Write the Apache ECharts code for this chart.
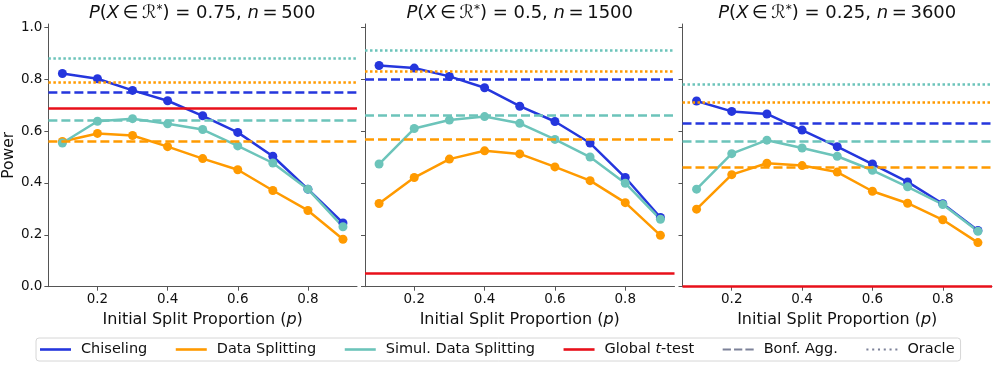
<!DOCTYPE html>
<html><head><meta charset="utf-8">
<script src="https://cdn.jsdelivr.net/npm/echarts@6/dist/echarts.min.js"></script>
<style>html,body{margin:0;padding:0;background:#fff}#c{width:997px;height:368px}</style>
</head><body><div id="c"></div>
<script>
// ---- data ----
const pValues = [0.1, 0.2, 0.3, 0.4, 0.5, 0.6, 0.7, 0.8, 0.9];
const xTicks = [0.2, 0.4, 0.6, 0.8];
const yTicks = [0.0, 0.2, 0.4, 0.6, 0.8, 1.0];
const panelTitles = [['0.75', '500'], ['0.5', '1500'], ['0.25', '3600']];

const chiseling = [
  [0.822, 0.802, 0.757, 0.717, 0.659, 0.595, 0.503, 0.376, 0.246],
  [0.853, 0.843, 0.811, 0.767, 0.696, 0.637, 0.554, 0.421, 0.267],
  [0.716, 0.676, 0.666, 0.604, 0.540, 0.473, 0.404, 0.320, 0.217]
];
const dataSplitting = [
  [0.560, 0.591, 0.583, 0.540, 0.494, 0.451, 0.371, 0.294, 0.183],
  [0.321, 0.421, 0.492, 0.524, 0.512, 0.462, 0.409, 0.324, 0.198],
  [0.299, 0.432, 0.476, 0.467, 0.442, 0.368, 0.322, 0.258, 0.170]
];
const simulSplitting = [
  [0.554, 0.638, 0.648, 0.628, 0.606, 0.543, 0.477, 0.376, 0.231],
  [0.473, 0.610, 0.643, 0.656, 0.630, 0.568, 0.500, 0.399, 0.260],
  [0.376, 0.513, 0.565, 0.535, 0.503, 0.449, 0.385, 0.317, 0.214]
];
const bonfChiseling = [0.746, 0.798, 0.627];
const bonfDataSplitting = [0.561, 0.574, 0.459];
const bonfSimul = [0.641, 0.660, 0.555];
const oracleDataSplitting = [0.794, 0.834, 0.714];
const oracleSimul = [0.875, 0.907, 0.775];
const globalTTest = [0.685, 0.051, 0.0];

// ---- styling ----
const BLUE = '#2536dd', ORANGE = '#ff9a00', CYAN = '#6cc4ba', RED = '#e8101a', GRAY = '#7d8299';
const FONT = 'DejaVu Sans';
const DASH = [9, 4], DOT = [2.5, 2.5];
const gridLefts = [47.5, 365, 682.5];
const gridW = 309.5, gridTop = 24, gridH = 262.7;

const grids = [], xAxes = [], yAxes = [], titles = [], series = [];
for (let i = 0; i < 3; i++) {
  grids.push({left: gridLefts[i], top: gridTop, width: gridW, height: gridH});
  xAxes.push({
    type: 'value', gridIndex: i, min: 0.06, max: 0.94,
    axisLine: {show: true, onZero: false, lineStyle: {color: '#555', width: 1}},
    axisTick: {show: true, length: 4, customValues: xTicks, lineStyle: {color: '#555'}},
    axisLabel: {customValues: xTicks, margin: 6, color: '#111', fontFamily: FONT, fontSize: 13.5,
      formatter: v => v.toFixed(1)},
    splitLine: {show: false},
    name: 'Initial Split Proportion ({i|p})', nameLocation: 'middle', nameGap: 14,
    nameTextStyle: {color: '#111', fontFamily: FONT, fontSize: 16,
      rich: {i: {fontStyle: 'italic', fontFamily: FONT, fontSize: 16, color: '#111'}}}
  });
  yAxes.push({
    type: 'value', gridIndex: i, min: 0, max: 1.013,
    axisLine: {show: true, lineStyle: {color: '#555', width: 1}},
    axisTick: {show: true, length: 4, customValues: yTicks, lineStyle: {color: '#555'}},
    axisLabel: {show: i === 0, customValues: yTicks, margin: 6, color: '#111', fontFamily: FONT, fontSize: 13.5,
      formatter: v => v.toFixed(1)},
    splitLine: {show: false},
    name: i === 0 ? 'Power' : '', nameLocation: 'middle', nameGap: 23,
    nameTextStyle: {color: '#111', fontFamily: FONT, fontSize: 15.5}
  });
  titles.push({
    left: gridLefts[i] + gridW / 2, top: 4, textAlign: 'center', padding: 0,
    text: '{i|P}({i|X}\u2009\u2208\u2009\u211B{s|*}) = ' + panelTitles[i][0] + ', {i|n}\u2009=\u2009' + panelTitles[i][1],
    textStyle: {fontFamily: FONT, fontSize: 18, fontWeight: 'normal', color: '#111',
      rich: {
        i: {fontStyle: 'italic', fontFamily: FONT, fontSize: 18, color: '#111'},
        s: {fontFamily: FONT, fontSize: 12, color: '#111', verticalAlign: 'top'}
      }}
  });

  const hl = (v, color, type) => ({yAxis: v, lineStyle: {color: color, type: type, width: 2.5}});
  const mlBase = {symbol: 'none', silent: true, label: {show: false}, animation: false, emphasis: {disabled: true}};
  series.push({
    name: 'Oracle', type: 'line', xAxisIndex: i, yAxisIndex: i, data: [], z: 1, color: GRAY,
    markLine: Object.assign({}, mlBase, {data: [hl(oracleSimul[i], CYAN, DOT), hl(oracleDataSplitting[i], ORANGE, DOT)]})
  });
  series.push({
    name: 'Bonf. Agg.', type: 'line', xAxisIndex: i, yAxisIndex: i, data: [], z: 1, color: GRAY,
    markLine: Object.assign({}, mlBase, {data: [hl(bonfChiseling[i], BLUE, DASH), hl(bonfSimul[i], CYAN, DASH), hl(bonfDataSplitting[i], ORANGE, DASH)]})
  });
  series.push({
    name: 'Global t-test', type: 'line', xAxisIndex: i, yAxisIndex: i, data: [], z: 1, color: RED,
    markLine: Object.assign({}, mlBase, {data: [hl(globalTTest[i], RED, 'solid')]})
  });
  const curve = (name, vals, color) => ({
    name: name, type: 'line', xAxisIndex: i, yAxisIndex: i, z: 3, color: color,
    data: pValues.map((p, k) => [p, vals[k]]),
    symbol: 'circle', symbolSize: 9, showAllSymbol: true,
    lineStyle: {color: color, width: 2.5}, itemStyle: {color: color},
    emphasis: {disabled: true}
  });
  series.push(curve('Chiseling', chiseling[i], BLUE));
  series.push(curve('Data Splitting', dataSplitting[i], ORANGE));
  series.push(curve('Simul. Data Splitting', simulSplitting[i], CYAN));
}

const dashIcon = 'path://M0,0H8V2H0Z M11,0H19V2H11Z M22,0H30V2H22Z';
const dotIcon = 'path://M0,0H2V2H0Z M5.6,0H7.6V2H5.6Z M11.2,0H13.2V2H11.2Z M16.8,0H18.8V2H16.8Z M22.4,0H24.4V2H22.4Z M28,0H30V2H28Z';

const option = {
  animation: false,
  backgroundColor: '#fff',
  title: titles,
  grid: grids,
  xAxis: xAxes,
  yAxis: yAxes,
  legend: {
    left: 36, top: 338, orient: 'horizontal',
    padding: [4, 6, 4, 4], itemGap: 28.5, itemWidth: 31, itemHeight: 2.6,
    borderColor: '#d6d6d6', borderWidth: 1, borderRadius: 3, backgroundColor: '#fff',
    selectedMode: false,
    textStyle: {fontFamily: FONT, fontSize: 14.5, color: '#111', padding: [0, 0, 0, 5],
      rich: {i: {fontStyle: 'italic', fontFamily: FONT, fontSize: 14.5, color: '#111'}}},
    formatter: n => n === 'Global t-test' ? 'Global {i|t}-test' : n,
    data: [
      {name: 'Chiseling', icon: 'rect', itemStyle: {color: BLUE}},
      {name: 'Data Splitting', icon: 'rect', itemStyle: {color: ORANGE}},
      {name: 'Simul. Data Splitting', icon: 'rect', itemStyle: {color: CYAN}},
      {name: 'Global t-test', icon: 'rect', itemStyle: {color: RED}},
      {name: 'Bonf. Agg.', icon: dashIcon, itemStyle: {color: GRAY}},
      {name: 'Oracle', icon: dotIcon, itemStyle: {color: GRAY}}
    ]
  },
  series: series
};
const chart = echarts.init(document.getElementById('c'), null, {renderer: 'canvas'});
chart.setOption(option);
</script></body></html>
